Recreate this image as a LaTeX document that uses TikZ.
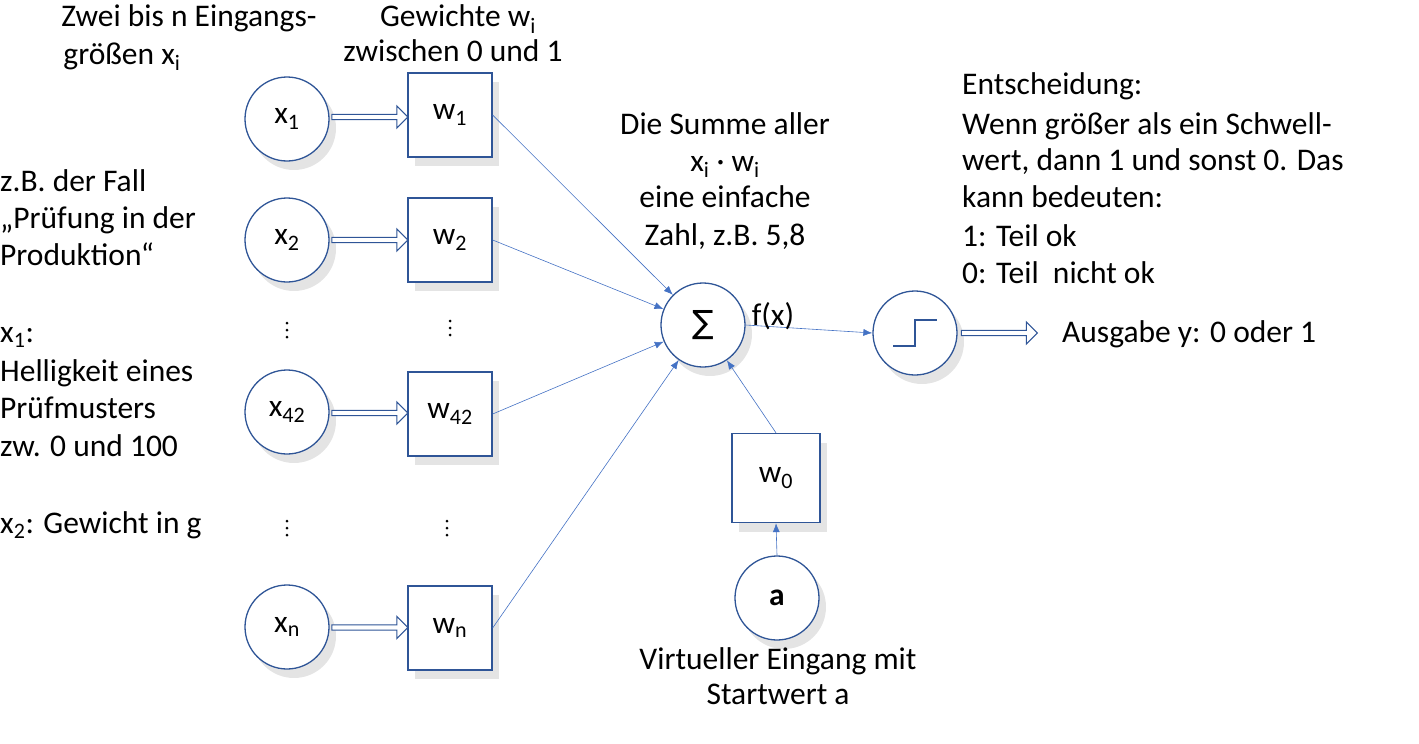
\documentclass[tikz,border=0pt]{standalone}
\usepackage{fontspec}
\setmainfont{Carlito}
\newfontfamily\djv{DejaVu Sans}
\usetikzlibrary{shapes.arrows,shadows,calc,arrows.meta}
\definecolor{bord}{HTML}{2F5597}
\definecolor{ln}{HTML}{4472C4}
\newcommand{\sbs}[1]{\textsubscript{#1}}
\begin{document}
\begin{tikzpicture}[x=1pt,y=-1pt,
  every node/.style={font=\fontsize{31.5}{34}\selectfont},
  shad/.style={drop shadow={opacity=0.3,shadow xshift=7pt,shadow yshift=-9pt,fill=gray!70}},
  neur/.style={circle,draw=bord,line width=1.3pt,fill=white,minimum size=84pt,inner sep=0pt,shad},
  wbox/.style={rectangle,draw=bord,line width=1.3pt,fill=white,minimum size=84pt,inner sep=0pt,shad},
  harr/.style={single arrow,draw=bord,line width=1.1pt,fill=white,minimum height=76pt,minimum width=22pt,single arrow head extend=5pt,inner sep=1pt,single arrow head indent=0pt},
  con/.style={ln,line width=0.6pt,-{Latex[length=9pt,width=7pt]}},
  txt/.style={inner sep=0pt,anchor=base},
  ltxt/.style={inner sep=0pt,anchor=base west}]
\useasboundingbox (0,0) rectangle (1419,744);
\node[neur] (x1) at (287,119) {x\sbs{1}};
\node[neur] (x2) at (287,240) {x\sbs{2}};
\node[neur] (x42) at (287,412) {x\sbs{42}};
\node[neur] (xn) at (287,627) {x\sbs{n}};
\node[wbox] (w1) at (450,115) {w\sbs{1}};
\node[wbox] (w2) at (450,240) {w\sbs{2}};
\node[wbox] (w42) at (450,414) {w\sbs{42}};
\node[wbox] (wn) at (450,628) {w\sbs{n}};
\node[neur] (s) at (703,325) {{\djv\fontsize{32}{32}\selectfont ∑}};
\node[neur] (st) at (915,333) {};
\node[wbox,minimum width=88pt,minimum height=89pt] (w0) at (776,478) {w\sbs{0}};
\node[neur] (a) at (777,598) {\textbf{a}};
\draw[bord,line width=2pt] (893,346) -- (915,346) -- (915,320) -- (937,320);
\foreach \c/\w in {x1/w1,x2/w2,x42/w42,xn/wn}
  \node[harr] at ($(\c.east)!0.5!(\w.west)$) {};
\node[harr] (oa) at (998,333) {};
\draw[con] (w1.east) -- (s);
\draw[con] (w2.east) -- (s);
\draw[con] (w42.east) -- (s);
\draw[con] (wn.east) -- (s);
\draw[con] (w0.north) -- (s);
\draw[con] (a.north) -- (w0.south);
\draw[con] (s.east) -- (st.west);
\foreach \px/\py in {287/330,450/328,287/528,447/528}
  \foreach \d in {-7,0,7} \fill (\px,\py+\d) circle (1.5);
\node[txt] at (189,27) {Zwei bis n Eingangs-};
\node[txt] at (122,64) {größen x\sbs{i}};
\node[txt] at (458,27) {Gewichte w\sbs{i}};
\node[txt] at (453,61) {zwischen 0 und 1};
\node[ltxt] at (0,191) {z.B. der Fall};
\node[ltxt] at (0,228) {„Prüfung in der};
\node[ltxt] at (0,265) {Produktion“};
\node[ltxt] at (0,342) {x\sbs{1}:};
\node[ltxt] at (0,381) {Helligkeit eines};
\node[ltxt] at (0,418) {Prüfmusters};
\node[ltxt] at (0,456) {zw. 0 und 100};
\node[ltxt] at (0,533) {x\sbs{2}: Gewicht in g};
\node[txt] at (725,134) {Die Summe aller};
\node[txt] at (725,171) {x\sbs{i} · w\sbs{i}};
\node[txt] at (725,207) {eine einfache};
\node[txt] at (725,245) {Zahl, z.B. 5,8};
\node[ltxt] at (962,94) {Entscheidung:};
\node[ltxt] at (962,134) {Wenn größer als ein Schwell-};
\node[ltxt] at (962,170) {wert, dann 1 und sonst 0. Das};
\node[ltxt] at (962,207) {kann bedeuten:};
\node[ltxt] at (962,246) {1: Teil ok};
\node[ltxt] at (962,283) {0: Teil\ \ nicht ok};
\node[ltxt] at (1062,342) {Ausgabe y: 0 oder 1};
\node[txt] at (773,325) {f(x)};
\node[txt] at (778,669) {Virtueller Eingang mit};
\node[txt] at (778,704) {Startwert a};
\end{tikzpicture}
\end{document}
